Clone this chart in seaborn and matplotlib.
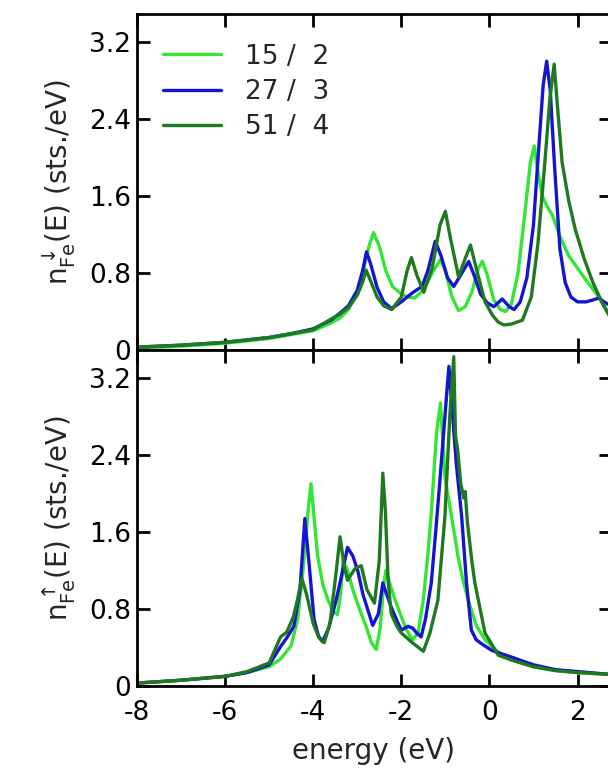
import numpy as np
import pandas as pd
import matplotlib
matplotlib.use("Agg")
import matplotlib.pyplot as plt
import seaborn as sns

# ---------------- data ----------------
labels = ["15 /  2", "27 /  3", "51 /  4"]
colors = ["#33e633", "#1414d2", "#1f7a1f"]

# minority (spin down) panel
dn_e_15 = [-8, -7, -6, -5, -4.5, -4, -3.6, -3.4, -3.2, -3.0, -2.85, -2.72, -2.63, -2.5, -2.35, -2.2,
           -2.0, -1.85, -1.7, -1.5, -1.3, -1.11, -1.0, -0.85, -0.7, -0.55, -0.4, -0.25, -0.16, -0.05,
           0.1, 0.25, 0.37, 0.5, 0.65, 0.8, 0.93, 1.02, 1.1, 1.2, 1.3, 1.43, 1.6, 1.8, 2.0, 2.2, 2.42,
           2.6, 2.75]
dn_v_15 = [0.02, 0.04, 0.07, 0.12, 0.16, 0.20, 0.28, 0.33, 0.42, 0.60, 0.85, 1.10, 1.22, 1.08, 0.82, 0.66,
           0.58, 0.55, 0.54, 0.62, 0.80, 0.94, 0.82, 0.55, 0.41, 0.45, 0.60, 0.85, 0.92, 0.78,
           0.52, 0.42, 0.40, 0.48, 0.80, 1.40, 1.95, 2.12, 1.85, 1.60, 1.50, 1.40, 1.18, 0.98, 0.85, 0.72, 0.59,
           0.46, 0.36]

dn_e_27 = [-8, -7, -6, -5, -4.5, -4, -3.6, -3.4, -3.2, -3.0, -2.88, -2.79, -2.7, -2.55, -2.4, -2.22,
           -2.0, -1.76, -1.53, -1.4, -1.23, -1.1, -0.95, -0.81, -0.65, -0.47, -0.35, -0.2, -0.05, 0.1,
           0.29, 0.45, 0.56, 0.7, 0.85, 1.0, 1.12, 1.22, 1.30, 1.38, 1.48, 1.6, 1.72, 1.85, 2.0, 2.19,
           2.35, 2.49, 2.6, 2.75]
dn_v_27 = [0.03, 0.05, 0.08, 0.13, 0.17, 0.22, 0.31, 0.38, 0.46, 0.62, 0.82, 1.02, 0.90, 0.65, 0.50, 0.43,
           0.50, 0.59, 0.66, 0.82, 1.13, 0.98, 0.75, 0.66, 0.78, 0.92, 0.78, 0.58, 0.49, 0.45,
           0.53, 0.45, 0.42, 0.50, 0.75, 1.30, 2.10, 2.75, 3.00, 2.70, 1.90, 1.05, 0.70, 0.55, 0.50, 0.50,
           0.52, 0.54, 0.50, 0.46]

dn_e_51 = [-8, -7, -6, -5, -4.5, -4, -3.6, -3.4, -3.2, -3.0, -2.88, -2.8, -2.7, -2.55, -2.4, -2.22,
           -2.0, -1.87, -1.77, -1.65, -1.49, -1.3, -1.12, -1.0, -0.88, -0.7, -0.55, -0.43, -0.3, -0.1,
           0.07, 0.2, 0.33, 0.5, 0.75, 0.95, 1.1, 1.25, 1.37, 1.47, 1.55, 1.65, 1.8, 1.95, 2.15, 2.35,
           2.55, 2.75]
dn_v_51 = [0.03, 0.05, 0.08, 0.13, 0.17, 0.21, 0.32, 0.37, 0.44, 0.57, 0.70, 0.83, 0.72, 0.55, 0.46, 0.42,
           0.55, 0.82, 0.96, 0.78, 0.60, 0.85, 1.30, 1.44, 1.15, 0.76, 0.95, 1.09, 0.85, 0.50,
           0.36, 0.29, 0.26, 0.27, 0.31, 0.55, 1.10, 1.90, 2.60, 2.97, 2.50, 1.95, 1.55, 1.25, 0.95, 0.70,
           0.50, 0.33]

# majority (spin up) panel
up_e_15 = [-8, -7, -6, -5.5, -5.0, -4.74, -4.5, -4.35, -4.21, -4.12, -4.05, -3.98, -3.9, -3.78, -3.67,
           -3.55, -3.45, -3.38, -3.32, -3.22, -3.1, -2.95, -2.8, -2.68, -2.57, -2.48, -2.4, -2.35, -2.25,
           -2.16, -2.0, -1.9, -1.75, -1.62, -1.5, -1.4, -1.32, -1.2, -1.11, -1.01, -0.86, -0.71, -0.6,
           -0.48, -0.3, -0.1, 0.2, 0.5, 1.0, 1.5, 2.0, 2.75]
up_v_15 = [0.03, 0.06, 0.10, 0.14, 0.20, 0.28, 0.42, 0.70, 1.31, 1.80, 2.10, 1.75, 1.35, 1.05, 0.90,
           0.78, 0.74, 0.95, 1.30, 1.20, 1.00, 0.80, 0.62, 0.45, 0.38, 0.60, 1.05, 1.20, 1.05,
           0.92, 0.72, 0.60, 0.48, 0.55, 0.90, 1.35, 1.80, 2.63, 2.94, 2.17, 1.76, 1.34, 1.10,
           0.89, 0.63, 0.48, 0.35, 0.27, 0.20, 0.16, 0.14, 0.12]

up_e_27 = [-8, -7, -6, -5.5, -5.0, -4.74, -4.6, -4.44, -4.3, -4.19, -4.1, -3.98, -3.88, -3.79, -3.65,
           -3.48, -3.33, -3.22, -3.1, -2.99, -2.87, -2.76, -2.65, -2.52, -2.42, -2.33, -2.23, -2.1, -2.0,
           -1.85, -1.74, -1.65, -1.55, -1.45, -1.32, -1.22, -1.13, -1.01, -0.92, -0.85, -0.75, -0.63,
           -0.52, -0.41, -0.3, -0.18, 0.05, 0.5, 1.0, 1.5, 2.0, 2.75]
up_v_27 = [0.03, 0.06, 0.10, 0.14, 0.22, 0.41, 0.50, 0.62, 1.00, 1.74, 1.30, 0.69, 0.52, 0.46, 0.60,
           0.89, 1.20, 1.44, 1.35, 1.20, 0.95, 0.79, 0.63, 0.75, 1.07, 0.95, 0.82, 0.68, 0.58,
           0.62, 0.60, 0.55, 0.51, 0.70, 1.07, 1.60, 2.10, 2.80, 3.32, 2.90, 2.30, 1.76,
           1.07, 0.58, 0.48, 0.44, 0.37, 0.30, 0.22, 0.17, 0.15, 0.12]

up_e_51 = [-8, -7, -6, -5.5, -5.0, -4.74, -4.6, -4.45, -4.36, -4.26, -4.15, -4.0, -3.87, -3.75, -3.62,
           -3.5, -3.39, -3.3, -3.22, -3.05, -2.91, -2.78, -2.61, -2.5, -2.42, -2.36, -2.3, -2.23, -2.1,
           -2.0, -1.75, -1.5, -1.35, -1.17, -1.01, -0.9, -0.81, -0.77, -0.72, -0.65, -0.58, -0.55, -0.5,
           -0.4, -0.33, -0.1, 0.2, 0.5, 1.0, 1.5, 2.0, 2.75]
up_v_51 = [0.03, 0.06, 0.10, 0.15, 0.24, 0.51, 0.56, 0.72, 0.89, 1.12, 0.95, 0.65, 0.50, 0.45, 0.65,
           1.10, 1.55, 1.25, 1.10, 1.22, 1.25, 1.00, 0.86, 1.30, 2.21, 1.80, 1.10, 0.75, 0.62,
           0.55, 0.45, 0.36, 0.55, 0.89, 1.76, 2.80, 3.42, 2.60, 2.45, 2.10, 1.95, 2.02, 1.70,
           1.30, 1.07, 0.55, 0.32, 0.27, 0.20, 0.16, 0.14, 0.12]

x_ticks = [-8, -6, -4, -2, 0, 2]
x_ticklabels = ["-8", "-6", "-4", "-2", "0", "2"]
y_ticks = [0, 0.8, 1.6, 2.4, 3.2]
y_ticklabels = ["0", "0.8", "1.6", "2.4", "3.2"]

def long_df(es, vs):
    frames = []
    for lab, e, v in zip(labels, es, vs):
        frames.append(pd.DataFrame({"energy": e, "dos": v, "system": lab}))
    return pd.concat(frames, ignore_index=True)

df_dn = long_df([dn_e_15, dn_e_27, dn_e_51], [dn_v_15, dn_v_27, dn_v_51])
df_up = long_df([up_e_15, up_e_27, up_e_51], [up_v_15, up_v_27, up_v_51])

# ---------------- plotting ----------------
sns.set_theme(style="ticks")
plt.rcParams["font.family"] = ["DejaVu Sans"]
plt.rcParams["mathtext.default"] = "regular"
plt.rcParams["axes.unicode_minus"] = False

W, H = 608, 776
fig = plt.figure(figsize=(W / 100, H / 100), dpi=100)
left = 137 / W
right = 611 / W
ax_top = fig.add_axes([left, 1 - 350 / H, right - left, (350 - 14) / H])
ax_bot = fig.add_axes([left, 1 - 686 / H, right - left, (686 - 350) / H])

palette = dict(zip(labels, colors))
for ax, df in [(ax_top, df_dn), (ax_bot, df_up)]:
    sns.lineplot(data=df, x="energy", y="dos", hue="system", palette=palette,
                 estimator=None, sort=True, linewidth=2.4, ax=ax, legend=(ax is ax_top))
    ax.set_xlim(-8, 2.76)
    ax.set_ylim(0, 3.49)
    ax.set_xticks(x_ticks)
    ax.set_xticklabels(x_ticklabels)
    ax.set_yticks(y_ticks)
    ax.set_yticklabels(y_ticklabels)
    ax.tick_params(direction="in", length=9, width=2, top=True, right=True,
                   labelsize=19, pad=4, colors="black")
    for sp in ax.spines.values():
        sp.set_linewidth(2)
        sp.set_color("black")
    ax.set_facecolor("white")

ax_top.tick_params(labelbottom=False)
ax_top.set_xlabel("")
ax_bot.tick_params(axis="x", pad=10)
ax_bot.set_xlabel("energy (eV)", fontsize=20, labelpad=8)
ax_top.set_ylabel(r"$n^{\downarrow}_{Fe}$(E) (sts./eV)", fontsize=20, labelpad=8)
ax_bot.set_ylabel(r"$n^{\uparrow}_{Fe}$(E) (sts./eV)", fontsize=20, labelpad=8)

leg = ax_top.legend(loc="upper left", frameon=False, fontsize=19, handlelength=2.2,
                    handletextpad=0.9, labelspacing=0.35, borderaxespad=0.4,
                    bbox_to_anchor=(0.01, 0.975))
for line in leg.get_lines():
    line.set_linewidth(2.4)

fig.savefig("out.png", dpi=100, facecolor="white")
